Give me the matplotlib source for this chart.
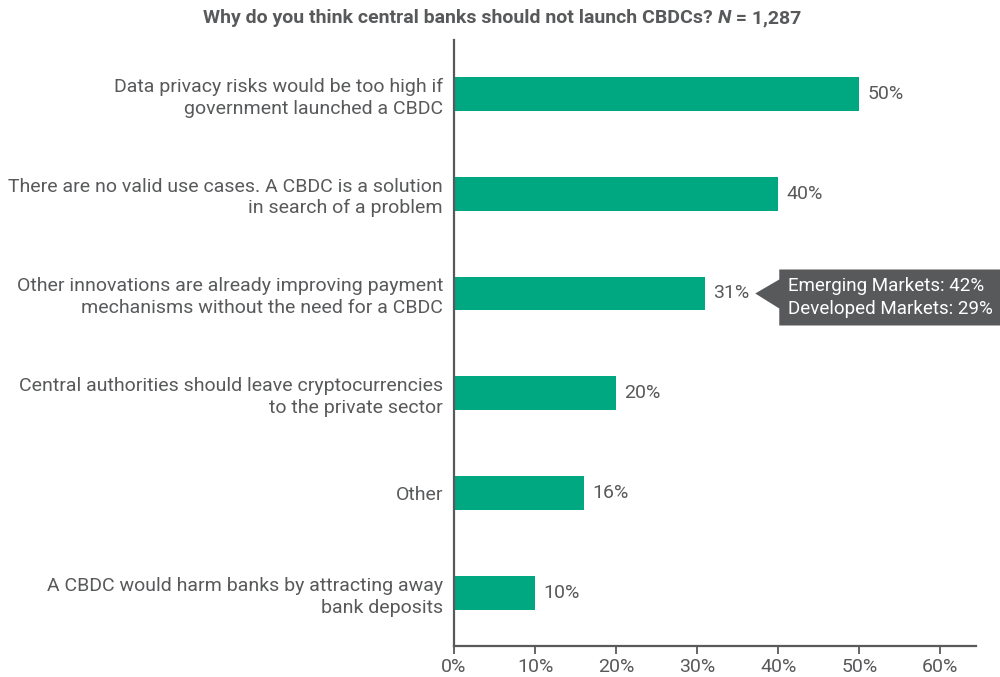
import matplotlib
matplotlib.use("Agg")
import matplotlib.pyplot as plt
from matplotlib.patches import Polygon
from matplotlib.transforms import offset_copy
import numpy as np

plt.rcParams['font.family'] = ['Roboto', 'DejaVu Sans']

# survey results
reasons = [
    "Data privacy risks would be too high if\ngovernment launched a CBDC",
    "There are no valid use cases. A CBDC is a solution\nin search of a problem",
    "Other innovations are already improving payment\nmechanisms without the need for a CBDC",
    "Central authorities should leave cryptocurrencies\nto the private sector",
    "Other",
    "A CBDC would harm banks by attracting away\nbank deposits",
]
shares = [50, 40, 31, 20, 16, 10]
xticks = [0, 10, 20, 30, 40, 50, 60]
callout_row = 2
callout_lines = ["Emerging Markets: 42%", "Developed Markets: 29%"]
title_parts = [("Why do you think central banks should not launch CBDCs? ", "normal"),
               ("N", "italic"), (" = 1,287", "normal")]

green = "#00a882"
grey = "#58595b"
fs = 14

fig = plt.figure(figsize=(10, 6.77), dpi=100)
ax = fig.add_axes([0.454, 0.046, 0.522, 0.895])

pos = np.arange(len(reasons))
ax.barh(pos, shares, height=0.34, color=green)
ax.set_ylim(len(reasons) - 0.47, -0.54)
ax.set_xlim(0, 64.4)

ax.set_yticks(pos)
ax.set_yticklabels(reasons, fontsize=fs, color=grey, linespacing=1.26)
ax.tick_params(axis='y', length=0, pad=8)
ax.set_xticks(xticks)
ax.set_xticklabels([f"{t}%" for t in xticks], fontsize=fs, color=grey)
ax.tick_params(axis='x', length=6, width=1.3, color=grey, pad=3)

for s in ['top', 'right']:
    ax.spines[s].set_visible(False)
for s in ['left', 'bottom']:
    ax.spines[s].set_color(grey)
    ax.spines[s].set_linewidth(1.6)

for p, v in zip(pos, shares):
    ax.annotate(f"{v}%", (v, p), xytext=(6, 0), textcoords='offset points',
                va='center', ha='left', fontsize=fs, color=grey)

# callout box next to the 31% label
tip = offset_copy(ax.transData, fig=fig, x=36, y=0, units='points')
px, py = tip.transform((shares[callout_row], pos[callout_row]))
inv = fig.transFigure.inverted()
box_l, box_r = px + 24, fig.bbox.width + 5
box_t, box_b = py + 24, py - 32
pts = [(px, py), (box_l, py + 14), (box_l, box_t), (box_r, box_t),
       (box_r, box_b), (box_l, box_b), (box_l, py - 15)]
fig.patches.append(Polygon([inv.transform(p) for p in pts], closed=True,
                           transform=fig.transFigure, facecolor=grey,
                           edgecolor='none'))
tx, ty = inv.transform((box_l + 9, (box_t + box_b) / 2))
fig.text(tx, ty, "\n".join(callout_lines), color='white', fontsize=13.5,
         ha='left', va='center', linespacing=1.35)

# title with italic N, laid out piece by piece
fig.canvas.draw()
renderer = fig.canvas.get_renderer()
pieces = []
for txt, style in title_parts:
    t = fig.text(0, 0.966, txt, fontsize=14, fontweight='bold', style=style,
                 color=grey, ha='left', va='baseline')
    pieces.append(t)
widths = [p.get_window_extent(renderer).width for p in pieces]
x = 502 - sum(widths) / 2
for p, w in zip(pieces, widths):
    p.set_x(x / fig.bbox.width)
    x += w

fig.savefig("out.png", dpi=100)
